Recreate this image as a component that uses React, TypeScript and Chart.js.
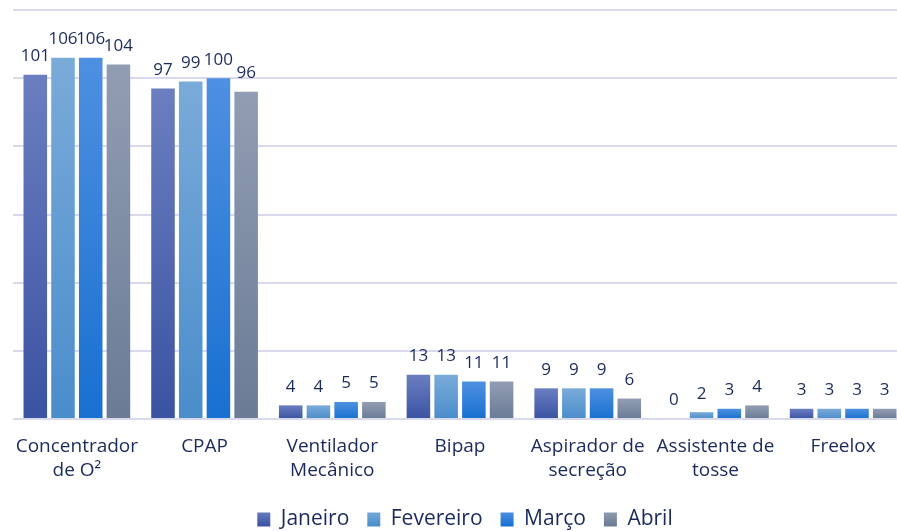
import React, { useEffect, useRef } from "react";
import { Chart, registerables } from "chart.js";

Chart.register(...registerables);

const categories: (string | string[])[] = [
  ["Concentrador", "de O²"],
  "CPAP",
  ["Ventilador", "Mecânico"],
  "Bipap",
  ["Aspirador de", "secreção"],
  ["Assistente de", "tosse"],
  "Freelox",
];
const seriesNames = ["Janeiro", "Fevereiro", "Março", "Abril"];
const janeiro = [101, 97, 4, 13, 9, 0, 3];
const fevereiro = [106, 99, 4, 13, 9, 2, 3];
const marco = [106, 100, 5, 11, 9, 3, 3];
const abril = [104, 96, 5, 11, 6, 4, 3];
const yTicks = { min: 0, max: 120, step: 20 };

const gradients: [string, string][] = [
  ["#6b7ec0", "#3a53a2"],
  ["#7aabd9", "#4a8dcb"],
  ["#4e90e1", "#1870d0"],
  ["#919db2", "#6b7b96"],
];
const textColor = "#1b2a5c";
const fontFamily = "'Open Sans', sans-serif";

const valueLabels = {
  id: "valueLabels",
  afterDatasetsDraw(chart: any) {
    const ctx = chart.ctx;
    ctx.save();
    ctx.font = `17px ${fontFamily}`;
    ctx.fillStyle = textColor;
    ctx.textAlign = "center";
    ctx.textBaseline = "bottom";
    chart.data.datasets.forEach((ds: any, i: number) => {
      const meta = chart.getDatasetMeta(i);
      meta.data.forEach((bar: any, j: number) => {
        ctx.fillText(String(ds.data[j]), bar.x, bar.y - 10);
      });
    });
    ctx.restore();
  },
};

const legendShift = {
  id: "legendShift",
  afterLayout(chart: any) {
    const lg = chart.legend;
    if (!lg) return;
    lg.left += 5;
    lg.right += 5;
    lg.top += 9;
    lg.bottom += 9;
  },
};

export default function App() {
  const ref = useRef<HTMLCanvasElement>(null);
  useEffect(() => {
    const all = [janeiro, fevereiro, marco, abril];
    const chart = new Chart(ref.current!, {
      type: "bar",
      data: {
        labels: categories,
        datasets: all.map((d, i) => ({
          label: seriesNames[i],
          data: d,
          backgroundColor: (c: any) => {
            const ch = c.chart;
            const ys = ch.scales?.y;
            if (!ys || c.type !== "data") return gradients[i][1];
            const top = ys.getPixelForValue(c.raw);
            const base = ys.getPixelForValue(0);
            if (!isFinite(top) || Math.abs(base - top) < 1) return gradients[i][1];
            const g = ch.ctx.createLinearGradient(0, top, 0, base);
            g.addColorStop(0, gradients[i][0]);
            g.addColorStop(1, gradients[i][1]);
            return g;
          },
          barPercentage: 0.85,
          categoryPercentage: 0.868,
        })),
      },
      options: {
        animation: false,
        responsive: true,
        maintainAspectRatio: false,
        layout: { padding: { left: 13, right: 0, top: 10, bottom: 0 } },
        scales: {
          x: {
            grid: { display: false },
            border: { display: false },
            ticks: {
              color: textColor,
              font: { family: fontFamily, size: 19, lineHeight: 1.25 },
              padding: 8,
              maxRotation: 0,
              autoSkip: false,
            },
            afterFit: (s: any) => {
              s.height = 63;
            },
          },
          y: {
            min: yTicks.min,
            max: yTicks.max,
            ticks: { display: false, stepSize: yTicks.step },
            grid: { color: "#d9d9ee", lineWidth: 2, drawTicks: false },
            border: { display: false },
          },
        },
        plugins: {
          tooltip: { enabled: false },
          legend: {
            position: "bottom",
            labels: {
              color: textColor,
              font: { family: fontFamily, size: 21 },
              boxWidth: 13,
              boxHeight: 14,
              padding: 18,
              generateLabels: (ch: any) =>
                seriesNames.map((n, i) => {
                  const g = ch.ctx.createLinearGradient(0, ch.height - 20, 0, ch.height - 5);
                  g.addColorStop(0, gradients[i][0]);
                  g.addColorStop(1, gradients[i][1]);
                  return {
                    text: n,
                    fillStyle: g,
                    strokeStyle: "transparent",
                    lineWidth: 0,
                    fontColor: textColor,
                    datasetIndex: i,
                    hidden: false,
                  };
                }),
            },
          },
        },
      },
      plugins: [valueLabels, legendShift],
    });
    return () => chart.destroy();
  }, []);
  return (
    <div style={{ position: "fixed", left: 0, top: 0, width: 897, height: 531, overflow: "hidden", background: "#fff" }}>
      <div style={{ position: "relative", width: 907, height: 531 }}>
        <canvas ref={ref} />
      </div>
    </div>
  );
}
